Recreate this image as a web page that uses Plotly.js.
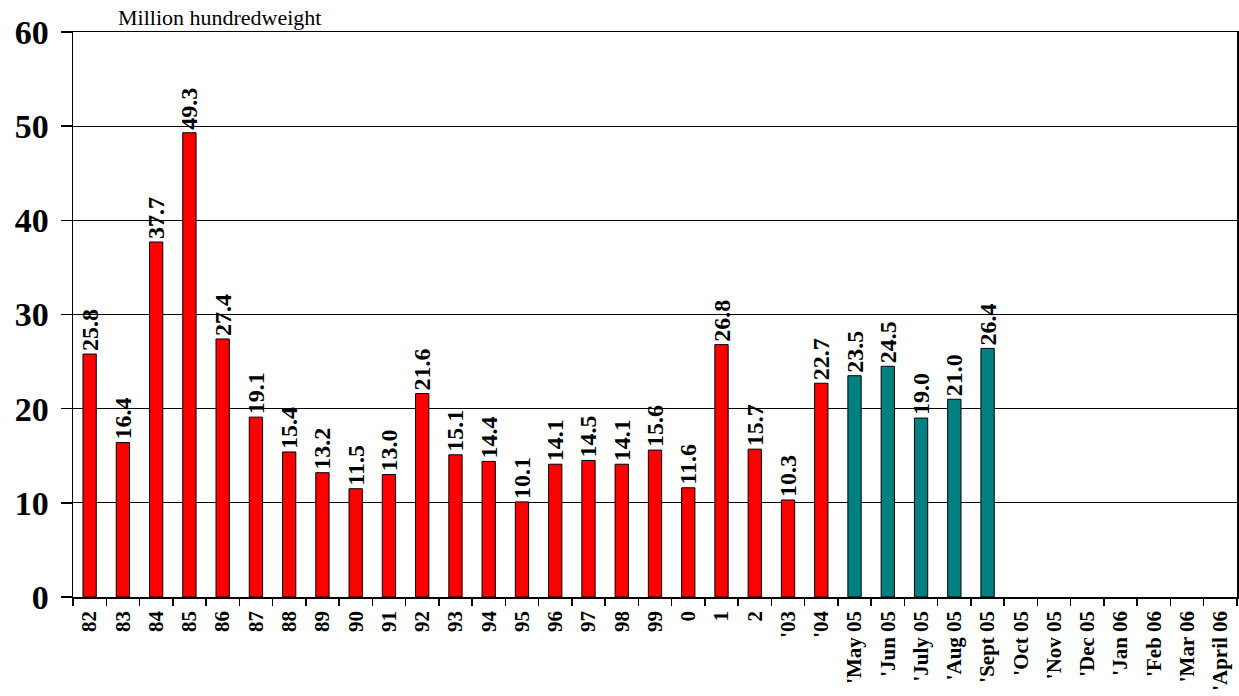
<!DOCTYPE html>
<html><head><meta charset="utf-8">
<script src="https://cdn.plot.ly/plotly-3.0.1.min.js"></script>
<style>html,body{margin:0;padding:0;background:#fff}</style>
</head><body>
<div id="chart" style="width:1239px;height:696px"></div>
<script>
const categories = ["82","83","84","85","86","87","88","89","90","91","92","93","94","95","96","97","98","99","0","1","2","'03","'04",
  "'May 05","'Jun 05","'July 05","'Aug 05","'Sept 05","'Oct 05","'Nov 05","'Dec 05","'Jan 06","'Feb 06","'Mar 06","'April 06"];
const annualValues = [25.8,16.4,37.7,49.3,27.4,19.1,15.4,13.2,11.5,13.0,21.6,15.1,14.4,10.1,14.1,14.5,14.1,15.6,11.6,26.8,15.7,10.3,22.7];
const monthlyValues = [23.5,24.5,19.0,21.0,26.4,null,null,null,null,null,null,null];
const annualColor = "#FF0000";
const monthlyColor = "#008080";

const values = annualValues.concat(monthlyValues);
const colors = annualValues.map(()=>annualColor).concat(monthlyValues.map(()=>monthlyColor));
const labels = values.map(v => v == null ? "" : v.toFixed(1));
const SERIF = "'Liberation Serif', 'Times New Roman', Times, serif";

const trace = {
  type: "bar", x: categories, y: values, text: labels,
  textposition: "outside", textangle: -90, constraintext: "none", cliponaxis: false,
  textfont: {family: SERIF, size: 24, color: "#000", weight: "bold"},
  marker: {color: colors, line: {color: "#000", width: 1}},
  hoverinfo: "x+y"
};

const layout = {
  width: 1239, height: 696,
  margin: {l: 73, r: 2, t: 32, b: 99},
  paper_bgcolor: "#fff", plot_bgcolor: "#fff",
  bargap: 0.6, showlegend: false,
  font: {family: SERIF, color: "#000"},
  xaxis: {
    type: "category", categoryorder: "array", categoryarray: categories,
    range: [-0.5, categories.length - 0.5],
    tickangle: -90, tickson: "boundaries", ticks: "outside", ticklen: 7, tickcolor: "#000", tickwidth: 1.5,
    ticklabelstandoff: 4,
    tickfont: {family: SERIF, size: 21, weight: "bold"},
    showline: true, linecolor: "#000", linewidth: 1.5, mirror: true,
    showgrid: false, zeroline: false
  },
  yaxis: {
    range: [0, 60], tickvals: [0,10,20,30,40,50,60],
    ticks: "outside", ticklen: 11, tickcolor: "#000", tickwidth: 1.5,
    ticklabelstandoff: 5,
    tickfont: {family: SERIF, size: 34, weight: "bold"},
    showline: true, linecolor: "#000", linewidth: 1.5, mirror: true,
    showgrid: true, gridcolor: "#000", gridwidth: 1, zeroline: false
  },
  annotations: [{
    text: "Million hundredweight", xref: "paper", yref: "paper",
    x: (219-73)/1164, y: 1, yshift: 15, xanchor: "center", yanchor: "middle",
    showarrow: false, font: {family: SERIF, size: 22, color: "#000"}
  }]
};

Plotly.newPlot("chart", [trace], layout, {displayModeBar: false, staticPlot: true});
</script>
</body></html>
